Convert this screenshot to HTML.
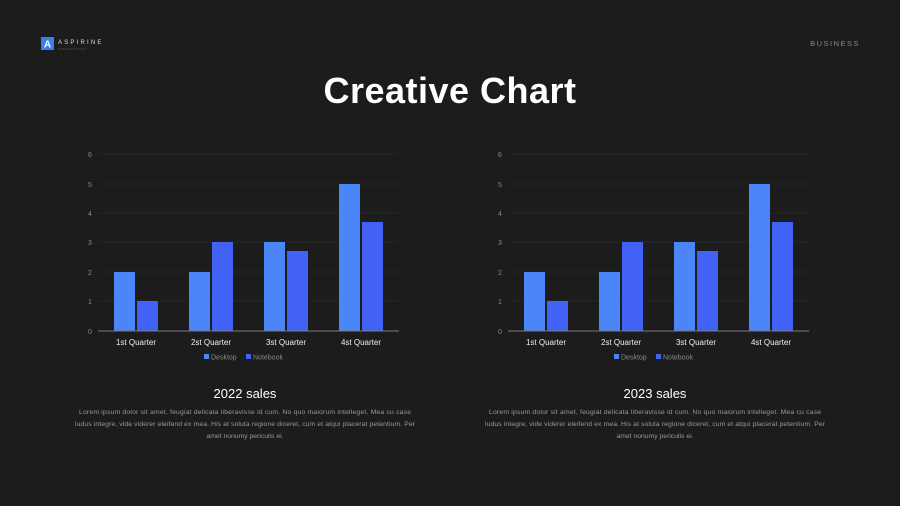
<!DOCTYPE html>
<html><head><meta charset="utf-8"><style>
html,body{margin:0;padding:0;background:#1c1c1c;}
svg{display:block;font-family:"Liberation Sans",sans-serif;}
</style></head><body>
<svg width="900" height="506" viewBox="0 0 900 506" xmlns="http://www.w3.org/2000/svg">
<defs>
<g id="ch">
<g stroke="#262626" stroke-width="1">
<line x1="98" y1="154" x2="399" y2="154"/><line x1="98" y1="184" x2="399" y2="184"/>
<line x1="98" y1="213" x2="399" y2="213"/><line x1="98" y1="242" x2="399" y2="242"/>
<line x1="98" y1="272" x2="399" y2="272"/><line x1="98" y1="301" x2="399" y2="301"/>
</g>
<g font-size="7" fill="#888" text-anchor="middle">
<text x="90" y="157">6</text><text x="90" y="187">5</text><text x="90" y="216">4</text><text x="90" y="245">3</text><text x="90" y="275">2</text><text x="90" y="304">1</text><text x="90" y="334">0</text>
</g>
<g fill="#4a86f8">
<rect x="114" y="272" width="21" height="59"/><rect x="189" y="272" width="21" height="59"/>
<rect x="264" y="242" width="21" height="89"/><rect x="339" y="184" width="21" height="147"/>
</g>
<g fill="#4262f5">
<rect x="137" y="301" width="21" height="30"/><rect x="212" y="242" width="21" height="89"/>
<rect x="287" y="251" width="21" height="80"/><rect x="362" y="222" width="21" height="109"/>
</g>
<line x1="98" y1="331" x2="399" y2="331" stroke="#777" stroke-width="1"/>
<g font-size="8" fill="#eee" text-anchor="middle">
<text x="136" y="345">1st Quarter</text><text x="211" y="345">2st Quarter</text><text x="286" y="345">3st Quarter</text><text x="361" y="345">4st Quarter</text>
</g>
<rect x="204" y="354" width="5" height="5" fill="#4a86f8"/><text x="211" y="359.5" font-size="7" fill="#888">Desktop</text>
<rect x="246" y="354" width="5" height="5" fill="#4262f5"/><text x="253" y="359.5" font-size="7" fill="#888">Notebook</text>
<g font-size="6.8" fill="#999" text-anchor="middle">
<text x="245" y="414" textLength="332" lengthAdjust="spacing">Lorem ipsum dolor sit amet, feugiat delicata liberavisse id cum. No quo maiorum intelleget. Mea cu case</text>
<text x="245" y="426" textLength="340" lengthAdjust="spacing">ludus integre, vide viderer eleifend ex mea. His at soluta regione diceret, cum et atqui placerat petentium. Per</text>
<text x="245" y="438">amet nonumy periculis ei.</text>
</g>
</g>
</defs>
<rect width="900" height="506" fill="#1c1c1c"/>
<rect x="41" y="37" width="13" height="13" fill="#3d7bf0"/>
<text x="47.5" y="47.5" font-size="10" font-weight="bold" fill="#fff" text-anchor="middle">A</text>
<text x="58" y="44" font-size="6" fill="#ddd" letter-spacing="2.2">ASPIRINE</text>
<text x="58" y="50" font-size="3" fill="#555" letter-spacing="0.5">PRESENTATION</text>
<text x="860" y="46" font-size="7.5" fill="#888" text-anchor="end" letter-spacing="1.5">BUSINESS</text>
<text x="450" y="103" font-size="36" font-weight="bold" fill="#fff" text-anchor="middle" letter-spacing="0.5">Creative Chart</text>

<use href="#ch"/>
<use href="#ch" transform="translate(410,0)"/>
<text x="245" y="398" font-size="13" fill="#fff" text-anchor="middle">2022 sales</text>
<text x="655" y="398" font-size="13" fill="#fff" text-anchor="middle">2023 sales</text>
</svg>
</body></html>
